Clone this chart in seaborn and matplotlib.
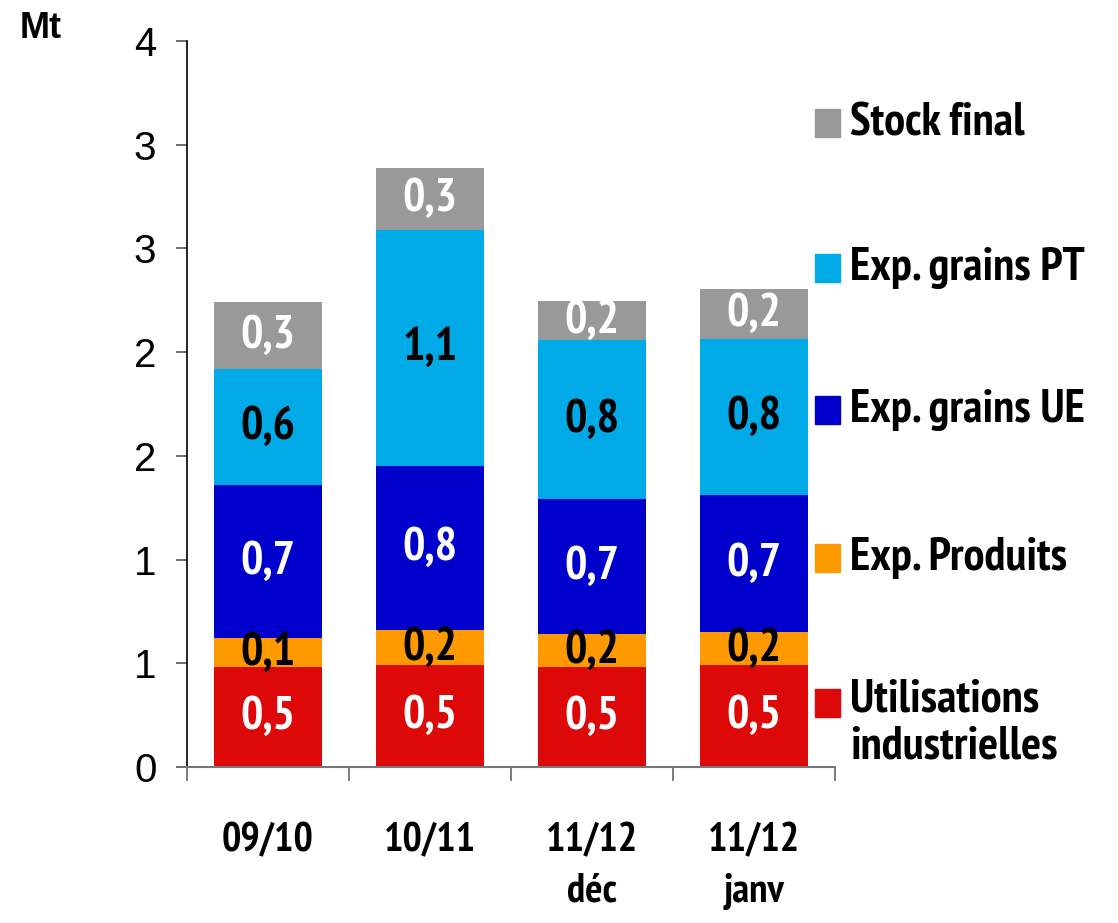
import matplotlib
matplotlib.use("Agg")
import matplotlib.pyplot as plt
import seaborn as sns
import numpy as np
from matplotlib.patches import Rectangle
from matplotlib import font_manager as fm
from matplotlib.textpath import TextToPath

categories = ["09/10", "10/11", "11/12\ndéc", "11/12\njanv"]
series_names = ["Utilisations\nindustrielles", "Exp. Produits", "Exp. grains UE", "Exp. grains PT", "Stock final"]
util_ind = [0.48, 0.49, 0.48, 0.49]
exp_produits = [0.14, 0.17, 0.16, 0.16]
exp_grains_ue = [0.74, 0.79, 0.652, 0.66]
exp_grains_pt = [0.56, 1.14, 0.765, 0.752]
stock_final = [0.32, 0.30, 0.19, 0.24]
yticks = [0, 0.5, 1.0, 1.5, 2.0, 2.5, 3.0, 3.5]
ytick_labels = ["0", "1", "1", "2", "2", "3", "3", "4"]

colors = ["#DD0808", "#FF9900", "#0000CC", "#00AAE6", "#999999"]
label_colors = ["white", "black", "white", "black", "white"]

sns.set_style("white")
plt.rcParams["font.family"] = ["Liberation Sans", "DejaVu Sans"]
plt.rcParams["text.color"] = "black"
plt.rcParams["xtick.color"] = "black"
plt.rcParams["ytick.color"] = "black"

# pick a narrow bold font if one is installed
cands = []
for f in fm.fontManager.ttflist:
    n = (f.name + " " + f.fname).lower()
    if ("narrow" in n or "condensed" in n) and f.weight in (700, "bold"):
        cands.append(f)
def rank(f):
    n = (f.name + " " + f.fname).lower()
    if "liberation" in n and "narrow" in n: return 0
    if "narrow" in n: return 1
    if "arimo" in n or "roboto" in n: return 2
    if "oblique" in n or "italic" in n: return 9
    return 5
cands.sort(key=rank)
if cands:
    BOLD = fm.FontProperties(fname=cands[0].fname)
else:
    BOLD = fm.FontProperties(family="Liberation Sans", weight="bold")

t2p = TextToPath()
def fit_size(text, target_px, fp):
    p = fp.copy()
    p.set_size(100)
    w, h, d = t2p.get_text_width_height_descent(text, p, ismath=False)
    w_px = w * 100 / 72.0
    return 100 * target_px / w_px

def fprop(size):
    p = BOLD.copy()
    p.set_size(size)
    return p

val_size = fit_size("0,5", 55, BOLD)
cat_size = fit_size("09/10", 92, BOLD)
leg_size = fit_size("Stock final", 174, BOLD)

fig = plt.figure(figsize=(11.18, 9.23), dpi=100)
ax = fig.add_axes([187/1118, 1-767/923, (835-187)/1118, (767-41)/923])

layers = [util_ind, exp_produits, exp_grains_ue, exp_grains_pt, stock_final]
bottom = np.zeros(len(categories))
for vals, col, lc in zip(layers, colors, label_colors):
    sns.barplot(x=categories, y=vals, bottom=bottom, color=col, width=0.67,
                ax=ax, saturation=1, edgecolor="none", linewidth=0)
    cont = ax.containers[-1]
    ax.bar_label(cont, labels=[f"{v:.1f}".replace(".", ",") for v in vals],
                 label_type="center", color=lc, fontproperties=fprop(val_size))
    bottom = bottom + np.array(vals)

ax.set_xlim(-0.5, 3.5)
ax.set_ylim(0, 3.5)
ax.set_yticks(yticks)
ax.set_yticklabels(ytick_labels, fontsize=29)
ax.tick_params(axis="y", length=8, width=1.2, color="#555555", pad=14, direction="out", left=True)
ax.set_xticks(range(len(categories)))
ax.set_xticklabels(categories, fontproperties=fprop(cat_size), linespacing=1.45)
ax.tick_params(axis="x", length=0, pad=40)
ax.set_xticks([-0.5, 0.5, 1.5, 2.5, 3.5], minor=True)
ax.tick_params(axis="x", which="minor", length=10, width=1.2, color="#666666", direction="out", bottom=True)
ax.set_xlabel("")
ax.set_ylabel("")
for s in ["top", "right"]:
    ax.spines[s].set_visible(False)
ax.spines["left"].set_color("black")
ax.spines["left"].set_linewidth(1.2)
ax.spines["bottom"].set_color("#777777")
ax.spines["bottom"].set_linewidth(1.5)

fig.text(20/1118, 1-28/923, "Mt", fontsize=26, fontweight="bold", va="center", ha="left",
         family="Liberation Sans")

# manual legend (reversed order)
leg_y = [123, 268, 410, 558, 703]
for name, col, yc in zip(series_names[::-1], colors[::-1], leg_y):
    fig.patches.append(Rectangle((815/1118, 1-(yc+14)/923), 25/1118, 28/923,
                                 transform=fig.transFigure, color=col))
    if "\n" in name:
        fig.text(850/1118, 1-(yc-24)/923, name, fontproperties=fprop(leg_size),
                 va="top", ha="left", linespacing=1.15)
    else:
        fig.text(850/1118, 1-yc/923, name, fontproperties=fprop(leg_size),
                 va="center", ha="left")

fig.savefig("out.png", dpi=100)
